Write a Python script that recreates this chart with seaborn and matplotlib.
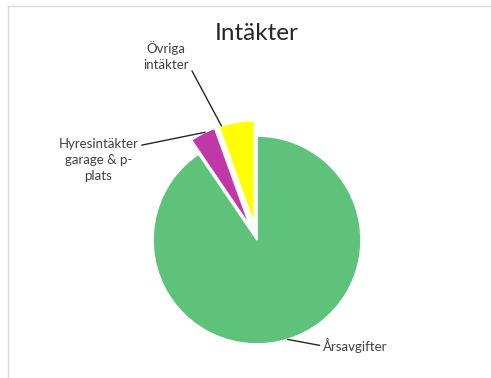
import numpy as np
import matplotlib
matplotlib.use("Agg")
import matplotlib.pyplot as plt
from matplotlib.lines import Line2D
import seaborn as sns

# Data
categories = ["Årsavgifter", "Hyresintäkter\ngarage & p-\nplats", "Övriga\nintäkter"]
values = [90.5, 4.0, 5.5]
colors = ["#5EC27A", "#C038A8", "#FFFF00"]
title = "Intäkter"

sns.set_theme(style="white")
plt.rcParams['font.family'] = ['Lato', 'DejaVu Sans']

W, H = 491, 378
fig = plt.figure(figsize=(W / 100, H / 100), dpi=100)
ax = fig.add_axes([0, 0, 1, 1])

cx, cy, R = 257, 240, 104  # pixel layout of pie

def px(x, y):
    return ((x - cx) / R, (cy - y) / R)

wedges, _ = ax.pie(values, colors=colors, startangle=90, counterclock=False,
                   explode=[0.0, 0.15, 0.15], radius=1.0,
                   wedgeprops=dict(edgecolor="white", linewidth=1.2))

ax.set_xlim((0 - cx) / R, (W - cx) / R)
ax.set_ylim((cy - H) / R, (cy - 0) / R)
ax.set_aspect('auto')
ax.axis('off')

def arc_point(w, frac):
    t1, t2 = w.theta1, w.theta2
    ang = np.deg2rad(t1 + frac * (t2 - t1))
    c = w.center
    return (c[0] + w.r * np.cos(ang), c[1] + w.r * np.sin(ang))

text_kw = dict(fontsize=9.5, color="#404040", linespacing=1.35)
line_kw = dict(arrowstyle="-", color="#262626", lw=1.0, shrinkA=0, shrinkB=0)

# Årsavgifter
ax.annotate(categories[0], xy=arc_point(wedges[0], 0.5), xytext=px(323, 346),
            ha="left", va="center", annotation_clip=False,
            arrowprops=dict(**line_kw, relpos=(0, 0.5)), **text_kw)
# Hyresintäkter
ax.annotate(categories[1], xy=arc_point(wedges[1], 0.4), xytext=px(98.5, 160),
            ha="center", va="center", multialignment="center", annotation_clip=False,
            arrowprops=dict(**line_kw, relpos=(1, 0.83)), **text_kw)
# Övriga
ax.annotate(categories[2], xy=arc_point(wedges[2], 0.93), xytext=px(166, 56),
            ha="center", va="center", multialignment="center", annotation_clip=False,
            arrowprops=dict(**line_kw, relpos=(1, 0.2)), **text_kw)

ax.text(*px(257, 34), title, ha="center", va="center", fontsize=17.5, color="#262626")

# light frame
fig.add_artist(Line2D([8 / W, 1], [1 - 6 / H, 1 - 6 / H], color="#d9d9d9", lw=1))
fig.add_artist(Line2D([8 / W, 8 / W], [0, 1 - 6 / H], color="#d9d9d9", lw=1))

fig.savefig("out.png", dpi=100, facecolor="white")
